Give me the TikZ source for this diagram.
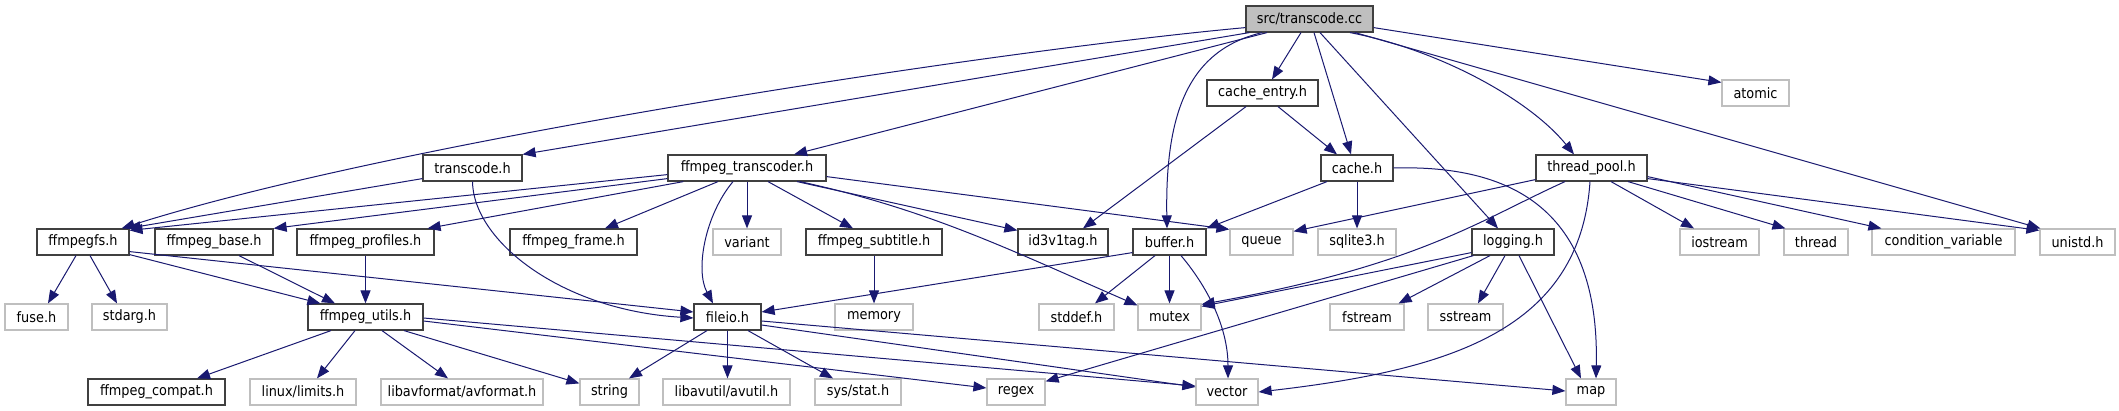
\documentclass[tikz,border=0pt]{standalone}
\usepackage{fontspec}
\setmainfont{DejaVu Sans Condensed}
\usetikzlibrary{arrows.meta}
\definecolor{edgec}{HTML}{191970}
\definecolor{boxb}{HTML}{404040}
\definecolor{sysb}{HTML}{BFBFBF}
\definecolor{rootf}{HTML}{BFBFBF}
\begin{document}
\begin{tikzpicture}[x=1pt,y=-1pt,
  box/.style={draw=boxb, line width=1.2pt, fill=white, inner sep=0pt, minimum height=26pt, font=\fontsize{14.3}{16}\selectfont},
  sys/.style={box, draw=sysb},
  rootbox/.style={box, fill=rootf},
  edge/.style={draw=edgec, line width=1pt, -{Triangle[length=13pt,width=10pt]}}]
\useasboundingbox[fill=white] (0,0) rectangle (2119,411);
% row 1
\node[rootbox, minimum width=127pt] (root) at (1309.5,19) {src/transcode.cc};
% row 2
\node[box, minimum width=111pt] (centry) at (1262.5,93) {cache\_entry.h};
\node[sys, minimum width=67pt] (atomic) at (1755.5,93) {atomic};
% row 3
\node[box, minimum width=99pt] (transh) at (472.5,168) {transcode.h};
\node[box, minimum width=158pt] (ftrans) at (747,168) {ffmpeg\_transcoder.h};
\node[box, minimum width=72pt] (cacheh) at (1357,168) {cache.h};
\node[box, minimum width=111pt] (tpool) at (1591.5,168) {thread\_pool.h};
% row 4
\node[box, minimum width=92pt] (ffs) at (83,242) {ffmpegfs.h};
\node[box, minimum width=118pt] (fbase) at (214,242) {ffmpeg\_base.h};
\node[box, minimum width=137pt] (fprof) at (365.5,242) {ffmpeg\_profiles.h};
\node[box, minimum width=127pt] (fframe) at (573.5,242) {ffmpeg\_frame.h};
\node[sys, minimum width=68pt] (variant) at (747,242) {variant};
\node[box, minimum width=136pt] (fsub) at (874,242) {ffmpeg\_subtitle.h};
\node[box, minimum width=90pt] (id3) at (1063,242) {id3v1tag.h};
\node[box, minimum width=73pt] (buffer) at (1169.5,242) {buffer.h};
\node[sys, minimum width=63pt] (queue) at (1261.5,242) {queue};
\node[sys, minimum width=78pt] (sqlite) at (1357,242) {sqlite3.h};
\node[box, minimum width=82pt] (logging) at (1513,242) {logging.h};
\node[sys, minimum width=79pt] (iostream) at (1719.5,242) {iostream};
\node[sys, minimum width=64pt] (thread) at (1816,242) {thread};
\node[sys, minimum width=143pt] (condvar) at (1943.5,242) {condition\_variable};
\node[sys, minimum width=75pt] (unistd) at (2077.5,242) {unistd.h};
% row 5
\node[sys, minimum width=63pt] (fuse) at (36.5,317) {fuse.h};
\node[sys, minimum width=75pt] (stdarg) at (129.5,317) {stdarg.h};
\node[box, minimum width=115pt] (futils) at (365.5,317) {ffmpeg\_utils.h};
\node[box, minimum width=67pt] (fileio) at (727.5,317) {fileio.h};
\node[sys, minimum width=78pt] (memory) at (874,317) {memory};
\node[sys, minimum width=75pt] (stddef) at (1076.5,317) {stddef.h};
\node[sys, minimum width=63pt] (mutex) at (1169.5,317) {mutex};
\node[sys, minimum width=74pt] (fstream) at (1367,317) {fstream};
\node[sys, minimum width=75pt] (sstream) at (1465.5,317) {sstream};
% row 6
\node[box, minimum width=137pt] (fcompat) at (156.5,392) {ffmpeg\_compat.h};
\node[sys, minimum width=106pt] (limits) at (303,392) {linux/limits.h};
\node[sys, minimum width=162pt] (avformat) at (462,392) {libavformat/avformat.h};
\node[sys, minimum width=59pt] (string) at (609.5,392) {string};
\node[sys, minimum width=127pt] (avutil) at (726.5,392) {libavutil/avutil.h};
\node[sys, minimum width=86pt] (sysstat) at (858,392) {sys/stat.h};
\node[sys, minimum width=58pt] (regex) at (1016,392) {regex};
\node[sys, minimum width=62pt] (vector) at (1227,392) {vector};
\node[sys, minimum width=50pt] (map) at (1591,392) {map};
% edges from root
\draw[edge] ([yshift=5pt]root.south west) .. controls (1000,50) and (400,140) .. ([xshift=-8pt]ffs.north east);
\draw[edge] ([xshift=4pt]root.south west) -- (transh.north east);
\draw[edge] ([xshift=-42.5pt]root.south) -- ([xshift=47pt]ftrans.north);
\draw[edge] ([xshift=-8.5pt]root.south) -- ([xshift=9.5pt]centry.north);
\draw[edge] ([xshift=4.5pt]root.south) -- ([xshift=-6pt]cacheh.north);
\draw[edge] ([xshift=-47.5pt]root.south) .. controls (1190,50) and (1165,110) .. ([xshift=-2.5pt]buffer.north);
\draw[edge] ([xshift=10.5pt]root.south) -- ([xshift=-15pt]logging.north);
\draw[edge] ([xshift=40.5pt]root.south) .. controls (1440,50) and (1530,100) .. ([xshift=-17.5pt]tpool.north);
\draw[edge] ([yshift=5pt]root.south east) -- ([yshift=-3pt]atomic.north west);
\draw[edge] ([xshift=45.5pt]root.south) -- ([xshift=1pt]unistd.north west);
% transcode.h
\draw[edge] ([yshift=3pt]transh.south west) -- ([xshift=-2pt]ffs.north east);
\draw[edge] (transh.south) .. controls (473,240) and (560,310) .. ([yshift=-1pt]fileio.west);
% ffmpeg_transcoder.h
\draw[edge] ([yshift=7pt]ftrans.south west) -- ([yshift=-2pt]ffs.north east);
\draw[edge] ([yshift=3pt]ftrans.south west) -- (fbase.north east);
\draw[edge] ([xshift=16pt]ftrans.south west) -- ([xshift=-7pt]fprof.north east);
\draw[edge] ([xshift=-29pt]ftrans.south) -- ([xshift=31.5pt]fframe.north);
\draw[edge] ([xshift=-14pt]ftrans.south) .. controls (705,215) and (695,270) .. ([xshift=-14.5pt]fileio.north);
\draw[edge] (ftrans.south) -- (variant.north);
\draw[edge] ([xshift=21pt]ftrans.south) -- ([xshift=-21pt]fsub.north);
\draw[edge] ([xshift=50pt]ftrans.south) -- ([yshift=-2pt]id3.north west);
\draw[edge] ([xshift=53pt]ftrans.south) .. controls (930,210) and (1010,250) .. ([yshift=-2pt]mutex.north west);
\draw[edge] ([yshift=5pt]ftrans.south east) -- ([yshift=-1pt]queue.north west);
% cache_entry.h
\draw[edge] ([xshift=15.5pt]centry.south) -- ([xshift=-20pt]cacheh.north);
\draw[edge] ([xshift=-16.5pt]centry.south) -- ([xshift=20pt]id3.north);
% cache.h
\draw[edge] ([xshift=-30pt]cacheh.south) -- (buffer.north east);
\draw[edge] (cacheh.south) -- (sqlite.north);
\draw[edge] (cacheh.east) .. controls (1500,165) and (1600,200) .. ([xshift=5pt]map.north);
% thread_pool.h
\draw[edge] ([yshift=2pt]tpool.south west) -- ([yshift=-3pt]queue.north east);
\draw[edge] ([xshift=-26.5pt]tpool.south) .. controls (1480,220) and (1420,265) .. ([yshift=-1pt]mutex.north east);
\draw[edge] ([xshift=-1.5pt]tpool.south) .. controls (1580,330) and (1450,370) .. (vector.east);
\draw[edge] ([xshift=19.5pt]tpool.south) -- ([xshift=-25.5pt]iostream.north);
\draw[edge] ([xshift=36.5pt]tpool.south) -- ([xshift=2pt]thread.north west);
\draw[edge] ([yshift=5pt]tpool.south east) -- ([xshift=10pt]condvar.north west);
\draw[edge] ([yshift=3pt]tpool.south east) -- ([yshift=-2pt]unistd.north west);
% ffmpegfs.h
\draw[edge] ([xshift=-7pt]ffs.south) -- ([xshift=11.5pt]fuse.north);
\draw[edge] ([xshift=7pt]ffs.south) -- ([xshift=-12.5pt]stdarg.north);
\draw[edge] ([yshift=1pt]ffs.south east) -- ([xshift=13pt]futils.north west);
\draw[edge] ([yshift=4pt]ffs.south east) -- ([yshift=5pt]fileio.west);
% others row 4
\draw[edge] ([xshift=25pt]fbase.south) -- ([xshift=-30.5pt]futils.north);
\draw[edge] (fprof.south) -- (futils.north);
\draw[edge] (fsub.south) -- (memory.north);
% buffer.h
\draw[edge] ([yshift=3pt]buffer.south west) -- ([yshift=5pt]fileio.east);
\draw[edge] ([xshift=-14.5pt]buffer.south) -- ([xshift=18.5pt]stddef.north);
\draw[edge] (buffer.south) -- (mutex.north);
\draw[edge] ([xshift=11.5pt]buffer.south) .. controls (1210,290) and (1228,330) .. ([xshift=1pt]vector.north);
% logging.h
\draw[edge] ([yshift=3pt]logging.south west) -- ([yshift=-3pt]mutex.north east);
\draw[edge] ([xshift=2pt]logging.south west) -- ([yshift=-3pt]regex.north east);
\draw[edge] ([xshift=-23pt]logging.south) -- ([xshift=-6pt]fstream.north east);
\draw[edge] ([xshift=-8pt]logging.south) -- ([xshift=12.5pt]sstream.north);
\draw[edge] ([xshift=6pt]logging.south) -- ([xshift=-10pt]map.north);
% fileio.h
\draw[edge] ([xshift=-20.5pt]fileio.south) -- ([xshift=19.5pt]string.north);
\draw[edge] (fileio.south) -- (fileio.south |- avutil.north);
\draw[edge] ([xshift=20.5pt]fileio.south) -- ([xshift=-25pt]sysstat.north);
\draw[edge] ([yshift=-8pt]fileio.east) -- ([yshift=5pt]vector.west);
\draw[edge] ([yshift=-4pt]fileio.east) -- ([yshift=1pt]map.west);
% ffmpeg_utils.h
\draw[edge] ([xshift=-34.5pt]futils.south) -- ([xshift=40.5pt]fcompat.north);
\draw[edge] ([xshift=-10.5pt]futils.south) -- ([xshift=14pt]limits.north);
\draw[edge] ([xshift=16.5pt]futils.south) -- ([xshift=-14pt]avformat.north);
\draw[edge] ([xshift=38.5pt]futils.south) -- ([yshift=-5pt]string.north west);
\draw[edge] ([yshift=-4pt]futils.east) -- ([yshift=4pt]regex.west);
\draw[edge] ([yshift=-1pt]futils.east) -- ([yshift=6pt]vector.west);
\end{tikzpicture}
\end{document}
